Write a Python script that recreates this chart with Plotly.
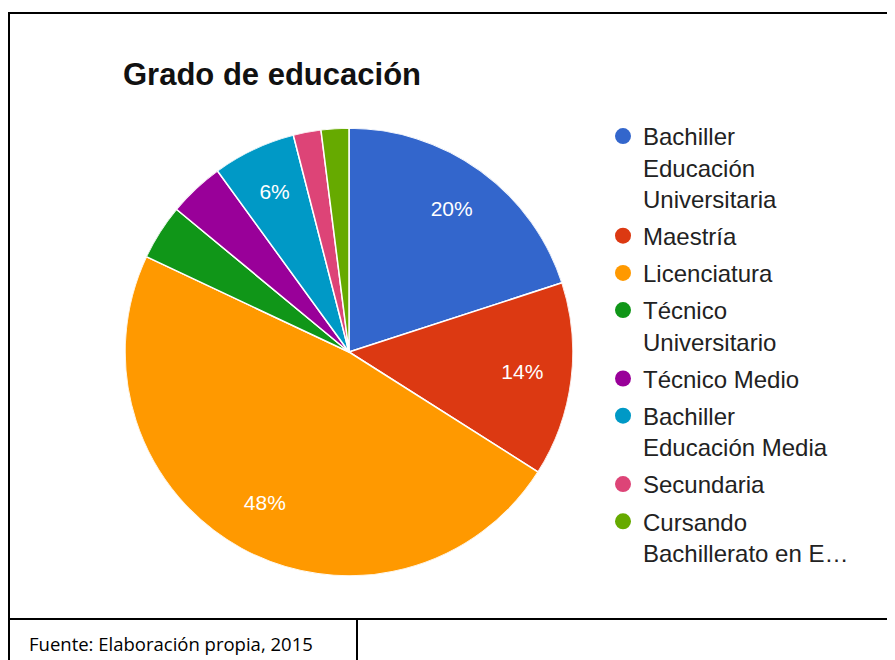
import plotly.graph_objects as go

# data
categories = [
    "Bachiller<br>Educación<br>Universitaria",
    "Maestría",
    "Licenciatura",
    "Técnico<br>Universitario",
    "Técnico Medio",
    "Bachiller<br>Educación Media",
    "Secundaria",
    "Cursando<br>Bachillerato en E…",
]
percent = [20, 14, 48, 4, 4, 6, 2, 2]
colors = ["#3366cc", "#dc3912", "#ff9900", "#109618",
          "#990099", "#0099c6", "#dd4477", "#66aa00"]

# page body adds an 8px margin, so the figure is 8px smaller
W, H = 887, 652

# slice geometry (degrees, clockwise from 12 o'clock)
widths = [p * 360 / sum(percent) for p in percent]
mids = []
acc = 0
for w in widths:
    mids.append(acc + w / 2)
    acc += w

# only the bigger slices get a label, like the original
slice_text = [f"{p}%" if p >= 5 else "" for p in percent]
LABEL_R = 0.78

pie_domain = dict(x=[117 / W, 565 / W], y=[84 / H, 532 / H])

fig = go.Figure()

fig.add_trace(go.Barpolar(
    r=[1] * len(percent),
    theta=mids,
    width=widths,
    marker=dict(color=colors, line=dict(color="white", width=1.5)),
    customdata=percent,
    hovertext=[c.replace("<br>", " ") for c in categories],
    hovertemplate="%{hovertext}: %{customdata}%<extra></extra>",
    showlegend=False,
))

fig.add_trace(go.Scatterpolar(
    r=[LABEL_R] * len(percent),
    theta=mids,
    mode="text",
    text=slice_text,
    textfont=dict(family="Liberation Sans, Arial", size=21, color="white"),
    hoverinfo="skip",
    showlegend=False,
))

# legend entries with round markers
for i, (name, c) in enumerate(zip(categories, colors)):
    fig.add_trace(go.Scatterpolar(
        r=[None], theta=[None], mode="markers", name=name,
        legendgroup=f"g{i}",
        marker=dict(symbol="circle", size=16, color=c),
    ))

# outer frame and footer box
fig.add_shape(type="rect", xref="paper", yref="paper",
              x0=1 / W, x1=1.01, y0=1 - 611 / H, y1=1 - 5 / H,
              line=dict(color="black", width=2))
fig.add_shape(type="rect", xref="paper", yref="paper",
              x0=1 / W, x1=349 / W, y0=-0.02, y1=1 - 611 / H,
              line=dict(color="black", width=2))

fig.add_annotation(
    text="Fuente: Elaboración propia, 2015",
    xref="paper", yref="paper", x=19 / W, y=1 - 635 / H,
    xanchor="left", yanchor="middle", showarrow=False,
    font=dict(family="Open Sans, Liberation Sans", size=18.5, color="black"),
)

fig.update_layout(
    width=W, height=H,
    margin=dict(l=0, r=0, t=0, b=0),
    paper_bgcolor="white",
    title=dict(
        text="<b>Grado de educación</b>",
        x=115 / W, xanchor="left", y=1 - 66 / H, yanchor="middle",
        font=dict(family="Liberation Sans, Arial", size=31, color="#111"),
    ),
    polar=dict(
        domain=pie_domain,
        bgcolor="rgba(0,0,0,0)",
        angularaxis=dict(direction="clockwise", rotation=90, visible=False,
                         showgrid=False, showline=False, ticks=""),
        radialaxis=dict(range=[0, 1], visible=False, showgrid=False,
                        showline=False, ticks=""),
        bargap=0,
    ),
    legend=dict(
        x=595 / W, y=1 - 106 / H, xanchor="left", yanchor="top",
        font=dict(family="Liberation Sans, Arial", size=24, color="#222"),
        bgcolor="rgba(0,0,0,0)",
        valign="top",
        tracegroupgap=3,
        itemwidth=30,
    ),
)

fig.write_html("out.html")
